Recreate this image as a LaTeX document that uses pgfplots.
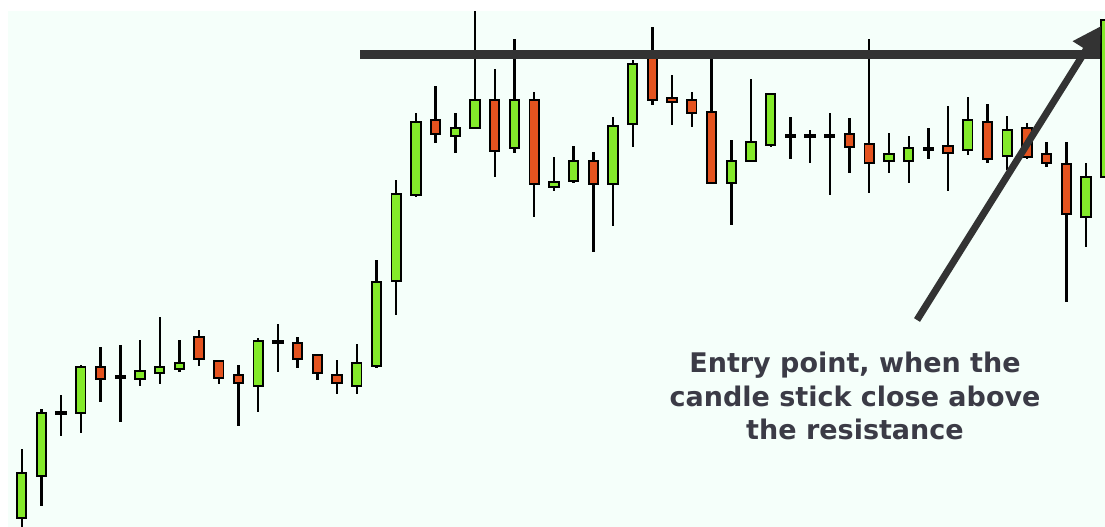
\documentclass[border=0pt]{standalone}
\usepackage{pgfplots}
\pgfplotsset{compat=1.18}
\usepackage{pgfplotstable}
\usepackage{fontspec}
\setmainfont{DejaVu Sans}
\usetikzlibrary{arrows.meta}
\definecolor{mint}{HTML}{F5FFFA}
\definecolor{cgreen}{HTML}{84EA2A}
\definecolor{cred}{HTML}{E4531F}
\definecolor{linecol}{HTML}{333333}
\definecolor{txtcol}{HTML}{3B3B46}

% pixel coordinates, y measured downward from the top
\pgfplotstableread{
x      hi   top    bot    lo   g
21.7   449  473    518    530  1
41.4   409  413    476    506  1
61.1   395  412.3  413.7  436  1
80.8   365  367    413    433  1
100.5  347  367    379    402  0
120.3  345  376.3  377.7  422  1
140.0  340  371    379    386  1
159.7  317  367    373    384  1
179.4  340  363    369    372  1
199.1  330  337    359    366  0
218.8  361  361    378    384  0
238.5  365  375    383    426  0
258.2  338  341    386    412  1
277.9  324  341    343    372  1
297.6  337  343    359    368  0
317.4  355  355    373    380  0
337.1  360  375    383    394  0
356.8  344  363    386    394  1
376.5  260  282    366    368  1
396.2  180  194    281    315  1
415.9  113  122    195    197  1
435.6  86   120    134    143  0
455.3  113  128    136    153  1
475.0  11   100    128    128  1
494.7  69   100    151    177  0
514.5  39   100    148    153  1
534.2  92   100    184    217  0
553.9  157  182    187    191  1
573.6  146  161    181    183  1
593.3  152  161    184    252  0
613.0  117  126    184    226  1
632.7  60   64     124    147  1
652.4  27   58     100    105  0
672.1  75   98     102    125  0
691.8  92   100    113    127  0
711.6  57   112    183    183  0
731.3  140  161    183    225  1
751.0  79   142    161    161  1
770.7  94   94     145    147  1
790.4  117  135.3  136.7  159  1
810.1  130  135.3  136.7  163  1
829.8  113  135.3  136.7  195  1
849.5  118  134    147    173  0
869.2  39   144    163    193  0
888.9  133  154    161    173  1
908.7  136  148    161    183  1
928.4  128  148.3  149.7  159  1
948.1  106  146    153    191  0
967.8  97   120    150    155  1
987.5  104  122    159    163  0
1007.2 116  130    156    170  1
1026.9 123  128    157    159  0
1046.6 142  154    163    167  0
1066.3 142  164    214    302  0
1086.0 163  177    217    247  1
1105.7 11   20     177    188  1
}\candles

\pgfplotsset{base/.style={width=1105pt, height=527pt, scale only axis,
  xmin=0, xmax=1105, ymin=0, ymax=527, y dir=reverse,
  axis lines=none, ticks=none, clip=true}}

\begin{document}
\begin{tikzpicture}
% background and wicks
\begin{axis}[base]
\addplot[fill=white, draw=none] coordinates {(0,0) (1105,0) (1105,527) (0,527)} -- cycle;
\addplot[fill=mint, draw=none] coordinates {(8,11) (1105,11) (1105,527) (8,527)} -- cycle;
\addplot[draw=none, mark=none,
  error bars/.cd, y dir=both, y explicit, error mark=none,
  error bar style={line width=2.4pt, black}]
  table[x=x, y expr=(\thisrow{hi}+\thisrow{lo})/2,
        y error expr=(\thisrow{lo}-\thisrow{hi})/2] {\candles};
\end{axis}
% candle bodies
\begin{axis}[base, ybar stacked, bar width=9.4]
\addplot[draw=none, fill=none] table[x=x, y=top] {\candles};
\addplot[draw=black, line width=1.9pt, fill=cgreen]
  table[x=x, y expr=\thisrow{g}*(\thisrow{bot}-\thisrow{top})] {\candles};
\addplot[draw=black, line width=1.9pt, fill=cred]
  table[x=x, y expr=(1-\thisrow{g})*(\thisrow{bot}-\thisrow{top})] {\candles};
\end{axis}
% resistance line, arrow, annotation
\begin{axis}[base]
\addplot[linecol, line width=9pt, mark=none] coordinates {(360,54.5) (1100,54.5)};
\addplot[linecol, line width=7pt, mark=none, -{Triangle[length=28pt,width=30pt]}]
  coordinates {(917,320) (1101,26)};
\node[align=center, text=txtcol, font=\fontsize{27}{33.5}\selectfont\bfseries]
  at (axis cs:855,396) {Entry point, when the\\candle stick close above\\the resistance};
\end{axis}
\end{tikzpicture}
\end{document}
